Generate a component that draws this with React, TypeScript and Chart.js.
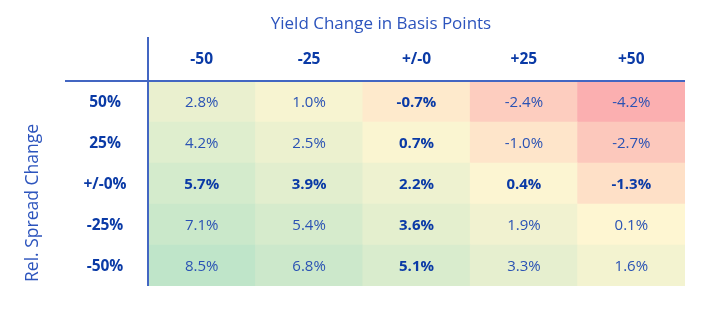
import { useEffect, useRef } from 'react';
import { Chart, registerables } from 'chart.js';

Chart.register(...registerables);

const columnLabels = ['-50', '-25', '+/-0', '+25', '+50'];
const rowLabels = ['50%', '25%', '+/-0%', '-25%', '-50%'];
const row50 = [2.8, 1.0, -0.7, -2.4, -4.2];
const row25 = [4.2, 2.5, 0.7, -1.0, -2.7];
const row0 = [5.7, 3.9, 2.2, 0.4, -1.3];
const rowM25 = [7.1, 5.4, 3.6, 1.9, 0.1];
const rowM50 = [8.5, 6.8, 5.1, 3.3, 1.6];
const rowValues = [row50, row25, row0, rowM25, rowM50];

const xTitle = 'Yield Change in Basis Points';
const yTitle = 'Rel. Spread Change';
const boldRow = '+/-0%';
const boldCol = '+/-0';

const FONT = '"Open Sans", "Noto Sans", sans-serif';
const LINE = '#4366c2';
const TITLE_COLOR = '#2c54bd';
const BOLD_COLOR = '#0a3aa6';
const NORMAL_COLOR = '#2a52b4';

const minV = Math.min(...rowValues.flat());
const maxV = Math.max(...rowValues.flat());
const RED = [251, 175, 176];
const MID = [255, 246, 210];
const GREEN = [191, 229, 201];

function mix(a: number[], b: number[], t: number) {
  const c = a.map((v, i) => Math.round(v + (b[i] - v) * t));
  return `rgb(${c[0]},${c[1]},${c[2]})`;
}
function cellColor(v: number) {
  if (v >= 0) return mix(MID, GREEN, v / maxV);
  return mix(MID, RED, v / minV);
}

const gridPlugin = {
  id: 'gridText',
  afterDatasetsDraw(chart: any) {
    const { ctx, chartArea, scales } = chart;
    ctx.save();
    ctx.textAlign = 'center';
    ctx.textBaseline = 'middle';
    chart.data.datasets.forEach((ds: any, di: number) => {
      const meta = chart.getDatasetMeta(di);
      meta.data.forEach((bar: any, ci: number) => {
        const cy = (bar.y + bar.base) / 2;
        const v = ds.values[ci];
        const bold = ds.label === boldRow || columnLabels[ci] === boldCol;
        ctx.font = `${bold ? 'bold ' : ''}15px ${FONT}`;
        ctx.fillStyle = bold ? BOLD_COLOR : NORMAL_COLOR;
        ctx.fillText(v.toFixed(1) + '%', bar.x, cy + 1);
        if (ci === 0) {
          ctx.font = `bold 15.5px ${FONT}`;
          ctx.fillStyle = BOLD_COLOR;
          ctx.fillText(ds.label, 105, cy + 1);
        }
      });
    });
    // column headers
    ctx.font = `bold 15.5px ${FONT}`;
    ctx.fillStyle = BOLD_COLOR;
    columnLabels.forEach((c, i) => {
      ctx.fillText(c, scales.x.getPixelForValue(i), 60);
    });
    // titles
    ctx.font = `17px ${FONT}`;
    ctx.fillStyle = TITLE_COLOR;
    ctx.fillText(xTitle, 381, 24);
    ctx.save();
    ctx.translate(33, 203);
    ctx.rotate(-Math.PI / 2);
    ctx.font = `17.5px ${FONT}`;
    ctx.fillText(yTitle, 0, 0);
    ctx.restore();
    // axis lines
    ctx.strokeStyle = LINE;
    ctx.lineWidth = 2;
    ctx.beginPath();
    ctx.moveTo(65, chartArea.top);
    ctx.lineTo(chartArea.right, chartArea.top);
    ctx.moveTo(chartArea.left, 37);
    ctx.lineTo(chartArea.left, chartArea.bottom);
    ctx.stroke();
    ctx.restore();
  },
};

export default function App() {
  const ref = useRef<HTMLCanvasElement>(null);
  useEffect(() => {
    if (!ref.current) return;
    const datasets = rowLabels
      .map((label, ri) => ({
        label,
        values: rowValues[ri],
        data: columnLabels.map(() => 1),
        backgroundColor: rowValues[ri].map(cellColor),
        borderWidth: 0,
        barPercentage: 1,
        categoryPercentage: 1,
      }))
      .reverse();
    const chart = new Chart(ref.current, {
      type: 'bar',
      data: { labels: columnLabels, datasets: datasets as any },
      options: {
        animation: false,
        responsive: false,
        layout: { padding: { left: 148, right: 23, top: 81, bottom: 36 } },
        plugins: { legend: { display: false }, tooltip: { enabled: false } },
        scales: {
          x: { display: false, stacked: true },
          y: { display: false, stacked: true, min: 0, max: rowLabels.length },
        },
      },
      plugins: [gridPlugin],
    });
    return () => chart.destroy();
  }, []);
  return (
    <div style={{ position: 'fixed', left: 0, top: 0, width: 708, height: 322, background: '#fff' }}>
      <canvas ref={ref} width={708} height={322} />
    </div>
  );
}
